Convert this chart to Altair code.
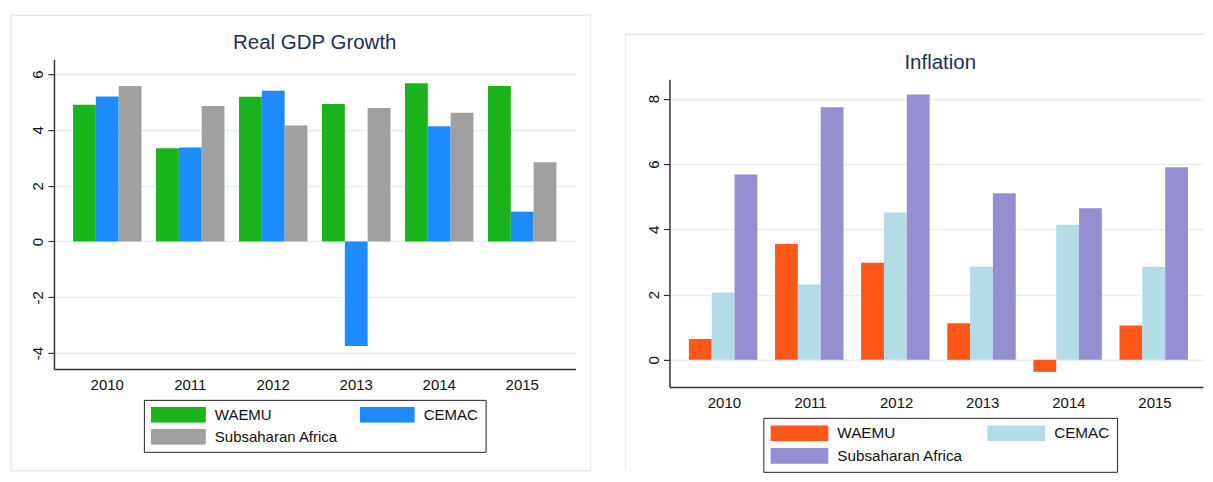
import altair as alt
import pandas as pd

years = ["2010", "2011", "2012", "2013", "2014", "2015"]
groups = ["WAEMU", "CEMAC", "Subsaharan Africa"]

gdp_waemu = [4.90, 3.34, 5.19, 4.93, 5.68, 5.58]
gdp_cemac = [5.20, 3.37, 5.41, -3.75, 4.13, 1.07]
gdp_ssa = [5.58, 4.86, 4.16, 4.79, 4.62, 2.84]

inf_waemu = [0.64, 3.55, 2.97, 1.12, -0.37, 1.05]
inf_cemac = [2.06, 2.31, 4.51, 2.85, 4.14, 2.84]
inf_ssa = [5.68, 7.74, 8.13, 5.10, 4.64, 5.90]

gdp_ticks = [-4, -2, 0, 2, 4, 6]
inf_ticks = [0, 2, 4, 6, 8]

gdp_title = "Real GDP Growth"
inf_title = "Inflation"

gdp_colors = ["#1cb41c", "#1e8cff", "#a0a0a0"]
inf_colors = ["#ff561a", "#b4dce7", "#958fd1"]

FONT = "Liberation Sans"
AXIS_COL = "#333333"
GRID_COL = "#e6eef1"
FRAME_COL = "#e3ebee"
LABEL_EXPR = "datum.value < 0 ? '-' + abs(datum.value) : '' + datum.value"


def long_df(a, b, c):
    rows = []
    for i, y in enumerate(years):
        for g, s in zip(groups, (a, b, c)):
            rows.append({"year": y, "group": g, "value": s[i]})
    return pd.DataFrame(rows)


one = alt.Data(values=[{"k": 1}])


def title_mark(text, width, y):
    return alt.Chart(one).mark_text(
        font=FONT, fontSize=20.5, color="#1c2f55", align="center", baseline="middle"
    ).encode(x=alt.value(width / 2), y=alt.value(y), text=alt.value(text))


def bars(df, colors, ydomain, yticks, yrange, xscale, legend_x, legend_y, sym_w,
         col_pad, font_size):
    sym_h = 16.0 / sym_w
    yscale = alt.Scale(domain=ydomain, nice=False, zero=False)
    if yrange is not None:
        yscale = alt.Scale(domain=ydomain, nice=False, zero=False, range=yrange)
    return alt.Chart(df).mark_bar().encode(
        x=alt.X("year:N", sort=years, title=None, scale=xscale,
                axis=alt.Axis(labelAngle=0, ticks=False, tickSize=0, grid=False,
                              domainColor=AXIS_COL, domainWidth=1.5,
                              labelFont=FONT, labelFontSize=15, labelColor="#111111",
                              labelPadding=9)),
        xOffset=alt.XOffset("group:N", sort=groups,
                            scale=alt.Scale(paddingInner=0, paddingOuter=0)),
        y=alt.Y("value:Q", title=None, scale=yscale,
                axis=alt.Axis(values=yticks, labelAngle=270, labelAlign="center",
                              labelBaseline="alphabetic", labelPadding=5,
                              labelExpr=LABEL_EXPR,
                              labelFont=FONT, labelFontSize=15, labelColor="#111111",
                              tickSize=6, tickColor=AXIS_COL, tickWidth=1.2,
                              domainColor=AXIS_COL, domainWidth=1.5,
                              grid=True, gridColor=GRID_COL, gridWidth=1.6)),
        color=alt.Color("group:N", sort=groups,
                        scale=alt.Scale(domain=groups, range=colors),
                        legend=alt.Legend(
                            title=None, orient="none", legendX=legend_x, legendY=legend_y,
                            direction="horizontal", columns=2,
                            symbolType=f"M-1,-{sym_h:.3f}H1V{sym_h:.3f}H-1Z",
                            symbolSize=sym_w * sym_w, symbolStrokeWidth=0,
                            symbolOpacity=1, clipHeight=16,
                            labelFont=FONT, labelFontSize=font_size, labelColor="#111111",
                            labelOffset=9, columnPadding=col_pad, rowPadding=6,
                            padding=7, strokeColor="#222222", fillColor="white",
                            cornerRadius=0)),
    )


# Left panel: Real GDP Growth (plot area 522 x 310)
gdp_df = long_df(gdp_waemu, gdp_cemac, gdp_ssa)
left_frame = alt.Chart(one).mark_rect(filled=False, stroke=FRAME_COL, strokeWidth=1.5).encode(
    x=alt.value(-43), x2=alt.value(537), y=alt.value(-44), y2=alt.value(412))
left = alt.layer(
    left_frame,
    title_mark(gdp_title, 522, -16),
    bars(gdp_df, gdp_colors, [-4.57, 6.54], gdp_ticks, None,
         alt.Scale(paddingInner=0.175, paddingOuter=0.23),
         90, 341, 55, 21, 15),
).properties(width=522, height=310)

# Right panel: Inflation (drawn from y=20 to 328 of its view)
RW = 534
inf_df = long_df(inf_waemu, inf_cemac, inf_ssa)
right_top = alt.Chart(one).mark_rule(stroke=FRAME_COL, strokeWidth=1.5).encode(
    x=alt.value(-44), x2=alt.value(RW + 0.5), y=alt.value(-25))
right_left = alt.Chart(one).mark_rule(stroke=FRAME_COL, strokeWidth=1.5).encode(
    x=alt.value(-44), y=alt.value(-25), y2=alt.value(412))
right = alt.layer(
    right_top, right_left,
    title_mark(inf_title, RW + 8, 4),
    bars(inf_df, inf_colors, [-0.83, 8.6], inf_ticks, [328, 20],
         alt.Scale(paddingInner=0.176, paddingOuter=0.1855, align=0.609),
         94, 359, 58, 24, 15.3),
).properties(width=RW, height=328)

chart = alt.hconcat(left, right, spacing=33).resolve_scale(
    color="independent", x="independent", y="independent"
).properties(
    padding={"left": 2, "top": 6, "right": 0, "bottom": 0},
    background="white",
).configure_view(stroke=None)

chart.save("out.html", embed_options={"renderer": "svg", "actions": False})
